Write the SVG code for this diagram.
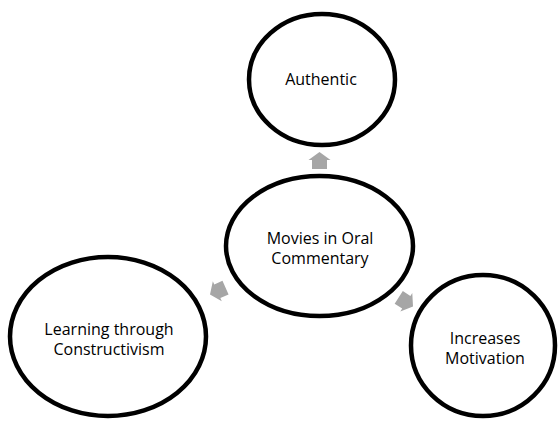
<svg xmlns="http://www.w3.org/2000/svg" xmlns:xlink="http://www.w3.org/1999/xlink" width="559" height="421" viewBox="0 0 559 421">
<style>
.node{fill:#fff;stroke:#000;stroke-width:4.5}
.lbl{font-family:"Open Sans","Liberation Sans",sans-serif;font-size:16px;fill:#000;text-anchor:middle}
.arr{fill:#a6a6a6}
</style>
<defs>
<polygon id="arrow" points="0,0 -8,-11 -8,-7.5 -17,-7.5 -17,7.5 -8,7.5 -8,11"/>
</defs>
<rect width="559" height="421" fill="#fff"/>
<g id="connectors" class="arr">
<use xlink:href="#arrow" transform="translate(319.5,152) rotate(-90)"/>
<use xlink:href="#arrow" transform="translate(210,294.5) rotate(156)"/>
<use xlink:href="#arrow" transform="translate(413,306.6) rotate(33)"/>
</g>
<g id="authentic">
<ellipse class="node" cx="322" cy="79.5" rx="73" ry="65.5"/>
<text class="lbl" x="321" y="85">Authentic</text>
</g>
<g id="center">
<ellipse class="node" cx="319.5" cy="246" rx="93.5" ry="70"/>
<text class="lbl" x="320" y="244">Movies in Oral</text>
<text class="lbl" x="320" y="264">Commentary</text>
</g>
<g id="learning">
<ellipse class="node" cx="108" cy="336.5" rx="98" ry="79.5"/>
<text class="lbl" x="109" y="335">Learning through</text>
<text class="lbl" x="109" y="355">Constructivism</text>
</g>
<g id="motivation">
<ellipse class="node" cx="483" cy="345.5" rx="72" ry="70.5"/>
<text class="lbl" x="485" y="344">Increases</text>
<text class="lbl" x="485" y="364">Motivation</text>
</g>
</svg>
